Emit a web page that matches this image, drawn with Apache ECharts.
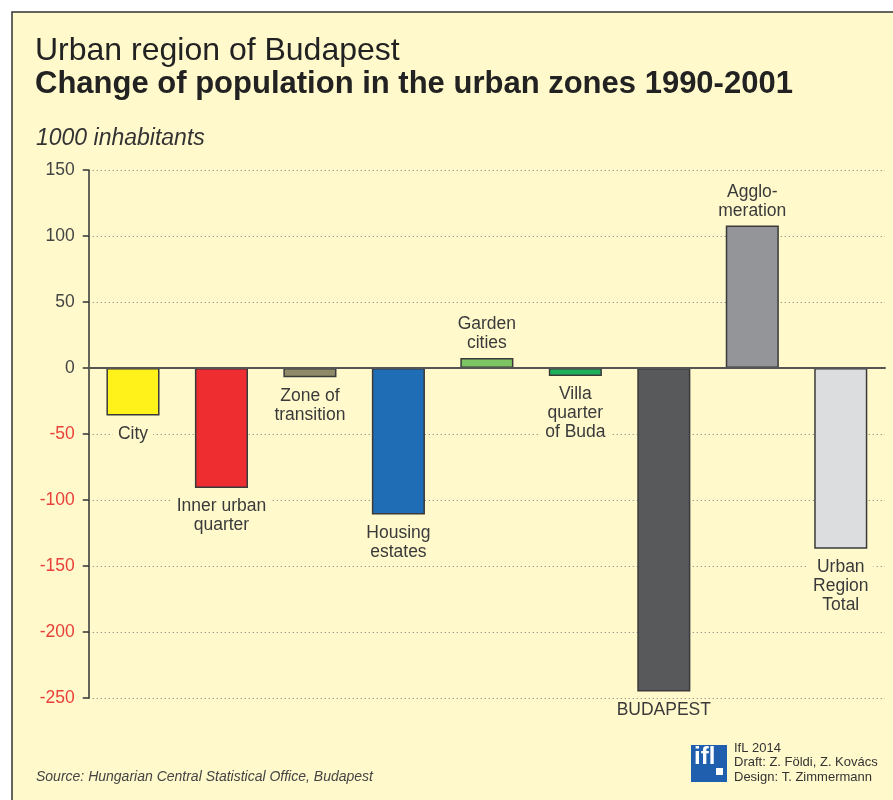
<!DOCTYPE html>
<html>
<head>
<meta charset="utf-8">
<script src="https://cdn.jsdelivr.net/npm/echarts@6/dist/echarts.min.js"></script>
<style>
  html, body { margin: 0; padding: 0; background: #fff; }
  #chart { width: 893px; height: 800px; }
</style>
</head>
<body>
<div id="chart"></div>
<script>
const categories = [
  'City', 'Inner urban\nquarter', 'Zone of\ntransition', 'Housing\nestates',
  'Garden\ncities', 'Villa\nquarter\nof Buda', 'BUDAPEST', 'Agglo-\nmeration', 'Urban\nRegion\nTotal'
]
const values = [-36, -91, -7, -111, 7.5, -6, -245, 108, -137]
const barColors = ['#fff21a', '#ee2d30', '#8f8b69', '#1f6db5', '#7dc462', '#1fb05e', '#58595b', '#939598', '#dcddde']
const yTicks = { min: -250, max: 150, interval: 50 }

const bg = '#fff9cc'
const ink = '#3a3a3a'
const font = '"Liberation Sans", Arial, sans-serif'

const chart = echarts.init(document.getElementById('chart'))

chart.setOption({
  backgroundColor: '#fff',
  animation: false,
  graphic: [
    {
      type: 'rect', z: -10, silent: true,
      shape: { x: 12, y: 12, width: 900, height: 800 },
      style: { fill: bg, stroke: '#333', lineWidth: 1.5 },
    },
    {
      type: 'text', left: 35, top: 35,
      style: { text: 'Urban region of Budapest', font: '32px ' + font, fill: '#222' },
    },
    {
      type: 'text', left: 35, top: 69,
      style: { text: 'Change of population in the urban zones 1990-2001', font: 'bold 31px ' + font, fill: '#222' },
    },
    {
      type: 'text', left: 36, top: 127,
      style: { text: '1000 inhabitants', font: 'italic 23px ' + font, fill: '#333' },
    },
    {
      type: 'text', left: 36, top: 770,
      style: { text: 'Source: Hungarian Central Statistical Office, Budapest', font: 'italic 14px ' + font, fill: '#444' },
    },
    {
      type: 'rect', left: 691, top: 745,
      shape: { width: 36, height: 37 },
      style: { fill: '#1f5fae' },
    },
    {
      type: 'text', left: 694, top: 745,
      style: { text: 'ifl', font: 'bold 24px ' + font, fill: '#fff' },
    },
    {
      type: 'rect', left: 716, top: 768,
      shape: { width: 7, height: 7 },
      style: { fill: '#fff' },
    },
    {
      type: 'text', left: 734, top: 741,
      style: { text: 'IfL 2014\nDraft: Z. Földi, Z. Kovács\nDesign: T. Zimmermann', font: '13px ' + font, fill: '#333', lineHeight: 14.5 },
    },
  ],
  grid: { left: 88.75, right: 8, top: 170, bottom: 102, containLabel: false },
  xAxis: {
    type: 'category',
    data: categories,
    axisLine: { onZero: true, lineStyle: { color: '#555', width: 2 } },
    axisTick: { show: false },
    axisLabel: { show: false },
    z: 5,
  },
  yAxis: {
    type: 'value',
    min: yTicks.min,
    max: yTicks.max,
    interval: yTicks.interval,
    axisLine: { show: true, lineStyle: { color: '#333', width: 1.5 } },
    axisTick: { show: true, length: 6, lineStyle: { color: '#333', width: 1.5 } },
    axisLabel: {
      margin: 14,
      fontSize: 17.5,
      fontFamily: font,
      color: (v) => (Number(v) < 0 ? '#e8403a' : '#444'),
    },
    splitLine: { show: true, lineStyle: { color: '#777', type: [1, 3], width: 1 } },
  },
  series: [
    {
      type: 'bar',
      barWidth: '60%',
      z: 3,
      data: values.map((v, i) => ({
        value: v,
        itemStyle: { color: barColors[i], borderColor: ink, borderWidth: 1.5 },
        label: {
          show: true,
          position: v < 0 ? 'bottom' : 'top',
          distance: v < 0 ? 9 : 5,
        },
      })),
      label: {
        formatter: (p) => p.name,
        fontSize: 17.5,
        fontFamily: font,
        color: ink,
        lineHeight: 19,
        align: 'center',
        backgroundColor: bg,
        padding: [0, 5],
      },
    },
  ],
})
</script>
</body>
</html>
